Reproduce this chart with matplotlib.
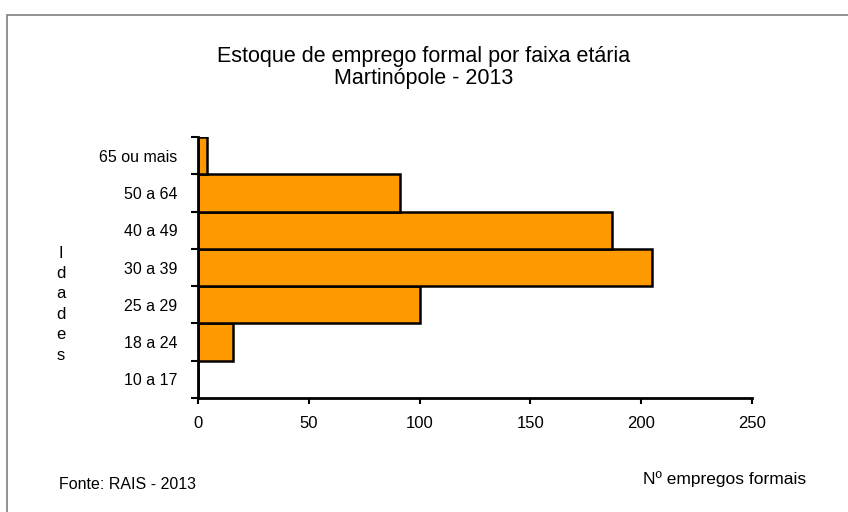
import matplotlib.pyplot as plt
from matplotlib.patches import Rectangle
import numpy as np

plt.rcParams['font.family'] = ['Liberation Sans', 'DejaVu Sans']

# faixas etarias (de baixo para cima) e numero de empregos
faixas = ['10 a 17', '18 a 24', '25 a 29', '30 a 39', '40 a 49', '50 a 64', '65 ou mais']
empregos = [0, 16, 100, 205, 187, 91, 4]
xticks = [0, 50, 100, 150, 200, 250]

fig = plt.figure(figsize=(8.48, 5.12), dpi=100)
# moldura cinza (so borda esquerda e superior aparecem)
fig.patches.append(Rectangle((7/848, -0.1), 1.2, 1 - 15/512 + 0.1, transform=fig.transFigure,
                             fill=False, edgecolor='#808080', linewidth=1.2))

ax = fig.add_axes([198/848, 1 - 398/512, 554/848, 261/512])
pos = np.arange(len(faixas))
ax.barh(pos, empregos, height=1.0, color='#FF9900', edgecolor='black', linewidth=1.8)

ax.set_xlim(0, 250)
ax.set_ylim(-0.5, len(faixas) - 0.5)
ax.set_xticks(xticks)
ax.set_xticklabels([str(v) for v in xticks], fontsize=12)
ax.set_yticks(pos)
ax.set_yticklabels(faixas, fontsize=11.5)
ax.set_yticks(np.arange(len(faixas) + 1) - 0.5, minor=True)
ax.tick_params(axis='y', which='major', length=0, pad=15)
ax.tick_params(axis='y', which='minor', length=5, width=1.5, direction='out')
ax.tick_params(axis='x', length=4, width=1.5, pad=9)

for s in ['top', 'right']:
    ax.spines[s].set_visible(False)
for s in ['left', 'bottom']:
    ax.spines[s].set_linewidth(2)

fig.text(0.5, 1 - 62/512, 'Estoque de emprego formal por faixa etária', ha='center', va='baseline', fontsize=15.5)
fig.text(0.5, 1 - 84/512, 'Martinópole - 2013', ha='center', va='baseline', fontsize=15.5)

fig.text(61/848, 1 - 304/512, 'I\nd\na\nd\ne\ns', ha='center', va='center', fontsize=12, linespacing=1.45)
fig.text(725/848, 1 - 484/512, 'Nº empregos formais', ha='center', va='baseline', fontsize=12.5)
fig.text(59/848, 1 - 489/512, 'Fonte: RAIS - 2013', ha='left', va='baseline', fontsize=11.5)

fig.savefig('out.png', dpi=100)
